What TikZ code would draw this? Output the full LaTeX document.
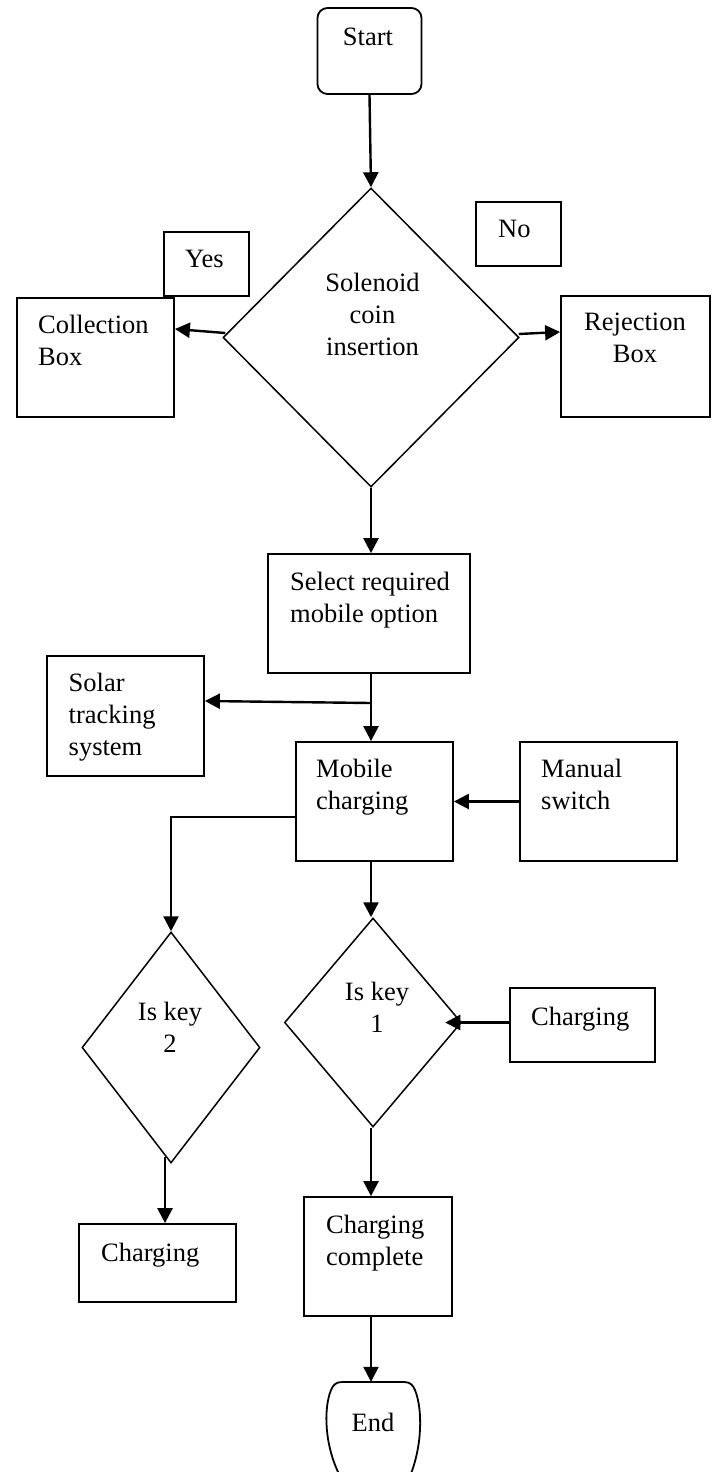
\documentclass[tikz,border=0pt]{standalone}
\usepackage{fontspec}
\setmainfont{Liberation Serif}
\usetikzlibrary{shapes.geometric,arrows.meta}
\begin{document}
\begin{tikzpicture}[x=1pt,y=-1pt,
  every node/.style={font=\fontsize{26.5}{32}\selectfont, inner sep=0pt},
  box/.style 2 args={draw, rectangle, line width=1.8pt, minimum width=#1, minimum height=#2},
  dia/.style 2 args={draw, diamond, line width=1.5pt, minimum width=#1, minimum height=#2},
  txt/.style={align=left, anchor=north west},
  ctxt/.style={align=center, anchor=north},
  conn/.style={line width=2.4pt, -{Triangle[width=15pt,length=15pt]}}]
\useasboundingbox (0,0) rectangle (713,1472);

% shapes
\node[box={104}{86}, rounded corners=10pt] (start) at (369.5,51) {};
\node[dia={296}{299}] (d1) at (371,337.5) {};
\node[box={85}{64}] (yes) at (206.5,264) {};
\node[box={85}{64}] (no) at (518.5,234) {};
\node[box={157}{119}] (coll) at (95.5,357.5) {};
\node[box={149}{121}] (rej) at (635.5,356.5) {};
\node[box={202}{119}] (select) at (369,613.5) {};
\node[box={157}{120}] (solar) at (125.5,716) {};
\node[box={157}{119}] (mobile) at (374.5,801.5) {};
\node[box={157}{119}] (manual) at (598.5,801.5) {};
\node[dia={178}{231}] (key2) at (171,1047.5) {};
\node[dia={177}{209}] (key1) at (373,1022.5) {};
\node[box={145}{74}] (chargR) at (582.5,1025) {};
\node[box={157}{78}] (chargL) at (157.5,1263) {};
\node[box={148}{119}] (chcomp) at (378,1256.5) {};
\node[minimum width=94, minimum height=80] (endn) at (373,1422) {End};
\draw[line width=1.8pt] (340,1476) .. controls (325,1447) and (323,1410) .. (331,1390)
  .. controls (333,1385) and (336,1382) .. (342,1382) -- (404,1382)
  .. controls (410,1382) and (413,1385) .. (415,1390)
  .. controls (423,1410) and (422,1447) .. (410,1476);

% texts
\node[ctxt] (start-t) at (368,28) {Start};
\node[ctxt] (d1-t) at (372.5,273) {Solenoid\\coin\\insertion};
\node[txt] (yes-t) at (185,250) {Yes};
\node[txt] (no-t) at (498,220) {No};
\node[txt] (coll-t) at (38,315) {Collection\\Box};
\node[ctxt] (rej-t) at (635,313) {Rejection\\Box};
\node[txt] (select-t) at (290,572) {Select required\\mobile option};
\node[txt] (solar-t) at (68.5,673) {Solar\\tracking\\system};
\node[txt] (mobile-t) at (316,759) {Mobile\\charging};
\node[txt] (manual-t) at (541,759) {Manual\\switch};
\node[ctxt] (key1-t) at (377,982) {Is key\\1};
\node[ctxt] (key2-t) at (170,1002) {Is key\\2};
\node[txt] (chargR-t) at (531,1007) {Charging};
\node[txt] (chargL-t) at (101,1243) {Charging};
\node[txt] (chcomp-t) at (326,1215) {Charging\\complete};

% connectors
\coordinate (tap) at (371,703);
\coordinate (k2b) at (165,1157);
\draw[conn] (start.south) -- (d1.north);
\draw[conn] ([shift={(3,-4.5)}]d1.west) -- ([shift={(0,-28.5)}]coll.east);
\draw[conn] ([shift={(-1,-3.5)}]d1.east) -- ([shift={(0,-24.5)}]rej.west);
\draw[conn] (d1.south) -- (d1.south |- select.north);
\draw[conn] (d1.south |- select.south) -- (d1.south |- mobile.north);
\draw[conn] (tap) -- ([shift={(0,-15)}]solar.east);
\draw[conn] (manual.west) -- (mobile.east);
\draw[conn] ([shift={(0,15.5)}]mobile.west) -| (key2.north);
\draw[conn] (d1.south |- mobile.south) -- (d1.south |- key1.north);
\draw[conn] ([shift={(0,-2.5)}]chargR.west) -- ([shift={(-17,0)}]key1.east);
\draw[conn] (k2b) -- (k2b |- chargL.north);
\draw[conn] (d1.south |- key1.south) -- (d1.south |- chcomp.north);
\draw[conn] (d1.south |- chcomp.south) -- (d1.south |- endn.north);
\end{tikzpicture}
\end{document}
